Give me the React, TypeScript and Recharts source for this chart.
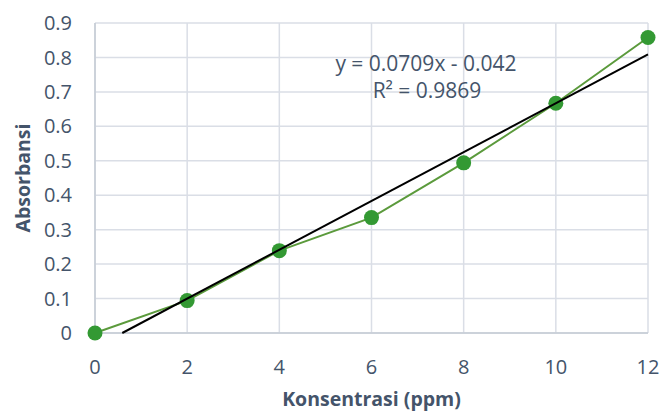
import React from 'react'
import { ScatterChart, Scatter, XAxis, YAxis, CartesianGrid } from 'recharts'

// concentration (ppm) and measured absorbance
const concentrations = [0, 2, 4, 6, 8, 10, 12]
const absorbances = [0, 0.094, 0.239, 0.335, 0.494, 0.667, 0.858]

// linear trendline y = 0.0709x - 0.042, drawn from where it crosses 0 to x = 12
const trendX = [0.592, 12]
const trendY = [0, 0.8088]

const xTicks = [0, 2, 4, 6, 8, 10, 12]
const yTicks = [0, 0.1, 0.2, 0.3, 0.4, 0.5, 0.6, 0.7, 0.8, 0.9]

const equationText = 'y = 0.0709x - 0.042'
const r2Text = 'R² = 0.9869'

const TEXT_COLOR = '#44546A'
const GRID_COLOR = '#dadee6'
const AXIS_COLOR = '#c5cbd5'
const FONT = '"Open Sans", sans-serif'

const points = concentrations.map((x, i) => ({ x, y: absorbances[i] }))
const trend = trendX.map((x, i) => ({ x, y: trendY[i] }))

const Dot = (props: any) => {
  const { cx, cy } = props
  return <circle cx={cx} cy={cy} r={7.5} fill="#339933" />
}

const NoDot = () => <g />

export default function App() {
  return (
    <div style={{ position: 'absolute', left: 0, top: 0, width: 661, height: 412, background: '#fff', fontFamily: FONT }}>
      <ScatterChart width={661} height={412} margin={{ top: 23, right: 13, bottom: 0, left: 0 }}>
        <CartesianGrid stroke={GRID_COLOR} strokeWidth={1.5} />
        <XAxis
          type="number"
          dataKey="x"
          domain={[0, 12]}
          ticks={xTicks}
          height={79}
          tickLine={false}
          tickSize={0}
          tickMargin={27}
          axisLine={{ stroke: AXIS_COLOR, strokeWidth: 1.5 }}
          tick={{ fill: TEXT_COLOR, fontSize: 20, fontFamily: FONT }}
          label={{
            value: 'Konsentrasi (ppm)',
            position: 'insideBottom',
            offset: 6,
            fill: TEXT_COLOR,
            fontSize: 19.5,
            fontWeight: 700,
            fontFamily: FONT,
          }}
        />
        <YAxis
          type="number"
          dataKey="y"
          domain={[0, 0.9]}
          ticks={yTicks}
          width={95}
          tickLine={false}
          tickSize={0}
          tickMargin={23}
          axisLine={{ stroke: AXIS_COLOR, strokeWidth: 1.5 }}
          tick={{ fill: TEXT_COLOR, fontSize: 20, fontFamily: FONT }}
          tickFormatter={(v: number) => (v === 0 ? '0' : String(v))}
          label={{
            value: 'Absorbansi',
            angle: -90,
            position: 'insideLeft',
            offset: 23,
            textAnchor: 'middle',
            fill: TEXT_COLOR,
            fontSize: 19.5,
            fontWeight: 700,
            fontFamily: FONT,
          }}
        />
        <Scatter
          data={points}
          line={{ stroke: '#5b9a3c', strokeWidth: 2 }}
          shape={Dot}
          isAnimationActive={false}
        />
        <Scatter
          data={trend}
          line={{ stroke: '#000000', strokeWidth: 2 }}
          shape={NoDot}
          isAnimationActive={false}
        />
      </ScatterChart>
      <svg
        width={661}
        height={412}
        style={{ position: 'absolute', left: 0, top: 0, pointerEvents: 'none' }}
      >
        <text x={426} y={71} textAnchor="middle" fill={TEXT_COLOR} fontSize={21} fontFamily={FONT}>
          {equationText}
        </text>
        <text x={427} y={98} textAnchor="middle" fill={TEXT_COLOR} fontSize={21} fontFamily={FONT}>
          {r2Text}
        </text>
      </svg>
    </div>
  )
}
